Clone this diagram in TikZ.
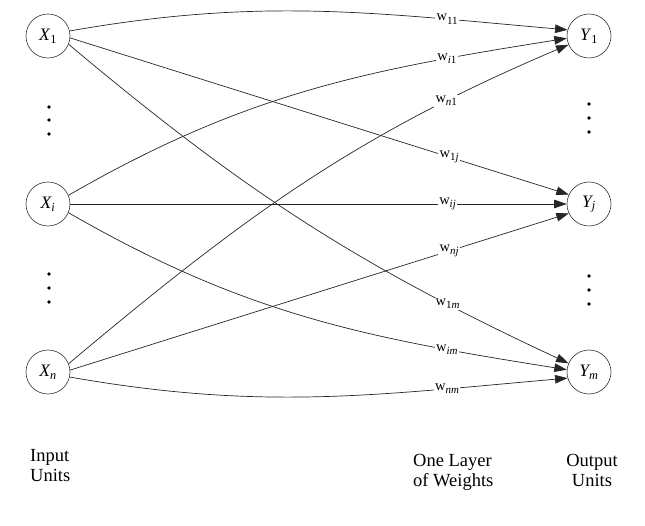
\documentclass[tikz,border=0pt]{standalone}
\usepackage{fontspec}
\setmainfont{Liberation Serif}
\usetikzlibrary{arrows.meta}
\newcommand{\wsb}[1]{w\raisebox{-3.2pt}{\fontsize{11}{11}\selectfont #1}}
\begin{document}
\begin{tikzpicture}[x=1pt,y=1pt,
  unit/.style={circle, draw=black!80, line width=0.6pt, minimum size=44pt, inner sep=0pt, font=\fontsize{17.5}{17.5}\selectfont},
  edge/.style={draw=black!85, line width=0.7pt, -{Triangle[length=12.5pt,width=8.5pt]}},
  wl/.style={fill=white, inner sep=1.2pt, font=\fontsize{14.5}{14.5}\selectfont},
  vdot/.style={circle, fill=black, inner sep=0pt, minimum size=3.6pt},
  captxt/.style={font=\fontsize{18.5}{20}\selectfont, inner sep=0pt}
]
\useasboundingbox (0,0) rectangle (645,-526);

% units
\node[unit] (X1) at (48,-36) {\textit{X}\textsubscript{1}};
\node[unit] (Xi) at (48,-204) {\textit{X\textsubscript{i}}};
\node[unit] (Xn) at (48,-372) {\textit{X\textsubscript{n}}};
\node[unit] (Y1) at (589,-36) {\textit{Y}\textsubscript{1}};
\node[unit] (Yj) at (589,-204) {\textit{Y\textsubscript{j}}};
\node[unit] (Ym) at (589,-372) {\textit{Y\textsubscript{m}}};

% dots
\node[vdot] (la1) at (49,-107) {};
\node[vdot] (la2) at (49,-120) {};
\node[vdot] (la3) at (49,-134) {};
\node[vdot] (lb1) at (49,-274) {};
\node[vdot] (lb2) at (49,-288) {};
\node[vdot] (lb3) at (49,-302) {};
\node[vdot] (ra1) at (589,-104) {};
\node[vdot] (ra2) at (589,-118) {};
\node[vdot] (ra3) at (589,-132) {};
\node[vdot] (rb1) at (589,-276) {};
\node[vdot] (rb2) at (589,-290) {};
\node[vdot] (rb3) at (589,-304) {};

% connections
\draw[edge] (X1.13) to[out=10,in=175] node[wl,pos=0.775] {\wsb{11}} (Y1.164);
\draw[edge] (X1.-5) -- node[wl,pos=0.76] {\wsb{1\textit{j}}} (Yj.155);
\draw[edge] (X1.-22) to[out=-40,in=155] node[wl,pos=0.79] {\wsb{1\textit{m}}} (Ym.157);

\draw[edge] (Xi.23) to[out=30,in=189] node[wl,pos=0.785] {\wsb{\textit{i}1}} (Y1.186);
\draw[edge] (Xi.0) -- node[wl,pos=0.76] {\wsb{\textit{ij}}} (Yj.180);
\draw[edge] (Xi.-23) to[out=-30,in=171] node[wl,pos=0.785] {\wsb{\textit{im}}} (Ym.174);

\draw[edge] (Xn.22) to[out=40,in=203] node[wl,pos=0.79] {\wsb{\textit{n}1}} (Y1.203);
\draw[edge] (Xn.5) -- node[wl,pos=0.76] {\wsb{\textit{nj}}} (Yj.205);
\draw[edge] (Xn.-13) to[out=-10,in=185] node[wl,pos=0.775] {\wsb{\textit{nm}}} (Ym.196);

% captions
\node[captxt, anchor=north west, align=left] (inp) at (30,-449) {Input\\Units};
\node[captxt, anchor=north west, align=left] (lay) at (413,-454) {One Layer\\of Weights};
\node[captxt, anchor=north, align=center] (outp) at (592,-454) {Output\\Units};
\end{tikzpicture}
\end{document}
